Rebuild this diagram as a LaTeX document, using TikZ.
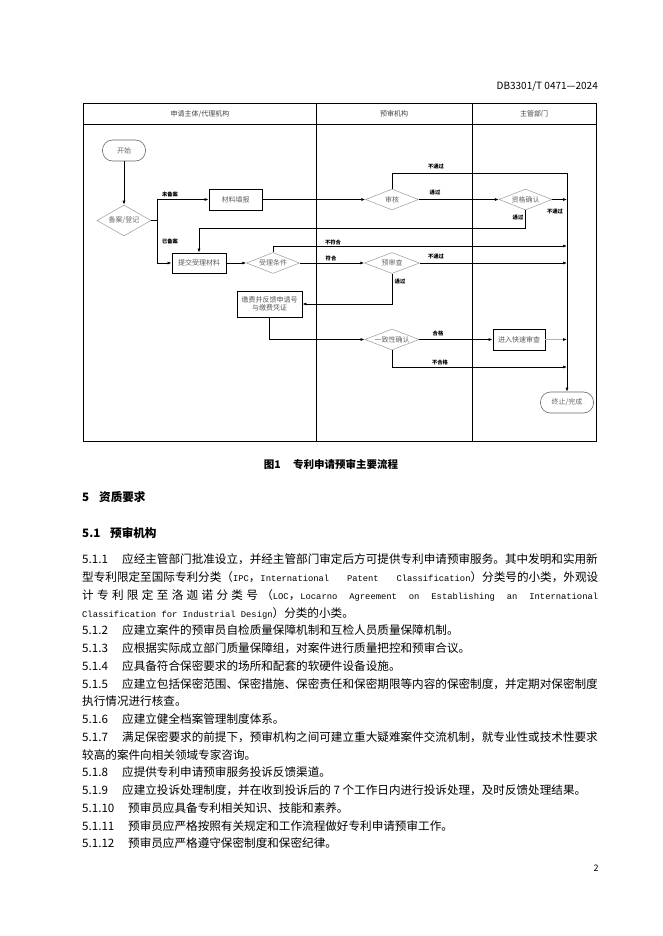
\documentclass[tikz,border=0pt]{standalone}
\usepackage{fontspec}
\setmainfont{Noto Sans CJK SC}
\newfontfamily\mono[Scale=0.76]{Liberation Mono}
\usepackage{tikz}
\usetikzlibrary{positioning,arrows.meta,shapes.geometric}
\newcommand\clause[1]{\makebox[40pt][l]{#1}}
\newcommand\clauselong[1]{\makebox[46pt][l]{#1}}
\newcommand\cg{\hskip 0pt plus 1fil\relax}
\newcommand\wg{\hskip 5.3pt plus 2fil\relax}

\begin{document}
\begin{tikzpicture}[x=1pt, y=-1pt,
  font=\fontsize{7}{8}\selectfont,
  lane/.style={line width=0.8pt},
  hdr/.style={text=black!75, inner sep=1pt},
  term/.style={draw=black!60, line width=0.6pt, rounded corners=10pt,
               minimum width=43pt, minimum height=21pt, text=black!60, inner sep=1pt},
  proc/.style={draw, line width=0.8pt, minimum width=53pt, minimum height=21pt,
               text=black!65, inner sep=2pt},
  dec/.style={diamond, aspect=3, draw=black!40, line width=0.5pt, minimum width=53pt,
              minimum height=21pt, inner sep=0pt, text=black!60},
  lbl/.style={font=\fontsize{5.3}{6}\selectfont\bfseries, inner sep=0pt},
  arr/.style={-{Latex[length=4pt,width=3pt]}, line width=0.7pt},
  body/.style={anchor=west, inner sep=0pt, font=\fontsize{11.6}{14}\selectfont},
  head/.style={body, font=\fontsize{11.6}{14}\selectfont\bfseries},
]
\useasboundingbox (0,0) rectangle (662,936);

\node[anchor=east, inner sep=0pt, font=\fontsize{10}{12}\selectfont] (docid) at (598,86) {DB3301/T 0471—2024};

% swimlanes
\draw[lane] (83,103) rectangle (596,441);
\draw[lane] (83,124) -- (596,124);
\draw[lane] (316,103) -- (316,441);
\draw[lane] (472,103) -- (472,441);
\node[hdr] (h1) at (200,114) {申请主体/代理机构};
\node[hdr] (h2) at (394,114) {预审机构};
\node[hdr] (h3) at (534,114) {主管部门};

% steps
\node[term] (start) at (124,150.5) {开始};
\node[dec, minimum width=54pt, minimum height=31pt] (reg) at (124,220.5) {备案/登记};
\node[proc] (fill) at (235.5,199.5) {材料填报};
\node[dec] (audit) at (392,199.5) {审核};
\node[dec] (qual) at (525.5,199.5) {资格确认};
\node[proc, minimum width=54pt, minimum height=20pt] (submit) at (199,263) {提交受理材料};
\node[dec] (cond) at (273,263) {受理条件};
\node[dec, minimum width=55pt] (pre) at (392,263) {预审查};
\node[proc, minimum width=65pt, minimum height=26pt, align=center] (pay) at (269.5,304) {缴费并反馈申请号\\与缴费凭证};
\node[dec, minimum width=54pt] (cons) at (392,339.5) {一致性确认};
\node[proc, minimum width=52pt] (fast) at (519,339.5) {进入快速审查};
\node[term, minimum width=53pt] (done) at (567,402.5) {终止/完成};

\coordinate (split) at (157,220.5);
\coordinate (rtop) at (567,173);
\coordinate (back) at (199,228);
\coordinate (r1) at (567,199.5);
\coordinate (r2) at (567,246);
\coordinate (r3) at (567,263);
\coordinate (r4) at (567,339.5);
\coordinate (r5) at (567,367);

\draw[arr] (start) -- (reg);
\draw[line width=0.7pt] (reg.east) -- (split);
\draw[arr] (split) |- (fill);
\draw[arr] (split) |- (submit);
\foreach \a/\b in {fill/audit,audit/qual,submit/cond,cond/pre,cons/fast} \draw[arr] (\a) -- (\b);
\draw[line width=0.7pt] (audit.north) |- (rtop);
\draw[arr] (rtop) -- (done);
\draw[arr] (qual) -- (r1);
\draw[arr] (qual.south) |- (back) -- (submit);
\draw[arr] (cond.north) |- (r2);
\draw[arr] (pre) -- (r3);
\draw[arr] (pre.south) |- (pay);
\draw[arr] (pay.south) |- (cons);
\draw[arr, black!30, -{Latex[length=4pt,width=3pt,black]}] (fast) -- (r4);
\draw[arr] (cons.south) |- (r5);

% branch labels
\node[lbl] (l1) at (170,194) {未备案};
\node[lbl] (l2) at (170,241) {已备案};
\node[lbl] (l3) at (436,167) {不通过};
\node[lbl] (l4) at (435,193) {通过};
\node[lbl] (l5) at (555,212) {不通过};
\node[lbl] (l6) at (518,218) {通过};
\node[lbl] (l7) at (333,242) {不符合};
\node[lbl] (l8) at (331,258) {符合};
\node[lbl] (l9) at (436,257) {不通过};
\node[lbl] (l10) at (400,282) {通过};
\node[lbl] (l11) at (438,333) {合格};
\node[lbl] (l12) at (440,362) {不合格};

\node[font=\fontsize{10.5}{12}\selectfont\bfseries, inner sep=0pt] (cap) at (331,464) {图1\hspace{1.2em}专利申请预审主要流程};

% text of the page
\node[head] (sec5) at (82,497) {\makebox[17pt][l]{5}资质要求};
\node[head] (sec51) at (82,533) {\makebox[28pt][l]{5.1}预审机构};
\node[body] (t1) at (82,559) {\clause{5.1.1}应经主管部门批准设立，并经主管部门审定后方可提供专利申请预审服务。其中发明和实用新};
\node[body] (t2) at (82,577) {\makebox[516pt][s]{型专利限定至国际专利分类（{\mono IPC}，{\mono International\wg Patent\wg Classification}）分类号的小类，外观设}};
\node[body] (t3) at (82,595) {\makebox[516pt][s]{计\cg 专\cg 利\cg 限\cg 定\cg 至\cg 洛\cg 迦\cg 诺\cg 分\cg 类\cg 号\cg （{\mono LOC}，{\mono Locarno\wg Agreement\wg on\wg Establishing\wg an\wg International}}};
\node[body] (t4) at (82,613) {{\mono Classification for Industrial Design}）分类的小类。};
\node[body] (t5) at (82,630) {\clause{5.1.2}应建立案件的预审员自检质量保障机制和互检人员质量保障机制。};
\node[body] (t6) at (82,648) {\clause{5.1.3}应根据实际成立部门质量保障组，对案件进行质量把控和预审合议。};
\node[body] (t7) at (82,666) {\clause{5.1.4}应具备符合保密要求的场所和配套的软硬件设备设施。};
\node[body] (t8) at (82,684) {\clause{5.1.5}应建立包括保密范围、保密措施、保密责任和保密期限等内容的保密制度，并定期对保密制度};
\node[body] (t9) at (82,701) {执行情况进行核查。};
\node[body] (t10) at (82,719) {\clause{5.1.6}应建立健全档案管理制度体系。};
\node[body] (t11) at (82,737) {\clause{5.1.7}满足保密要求的前提下，预审机构之间可建立重大疑难案件交流机制，就专业性或技术性要求};
\node[body] (t12) at (82,755) {较高的案件向相关领域专家咨询。};
\node[body] (t13) at (82,772) {\clause{5.1.8}应提供专利申请预审服务投诉反馈渠道。};
\node[body] (t14) at (82,790) {\clause{5.1.9}应建立投诉处理制度，并在收到投诉后的 7 个工作日内进行投诉处理，及时反馈处理结果。};
\node[body] (t15) at (82,808) {\clauselong{5.1.10}预审员应具备专利相关知识、技能和素养。};
\node[body] (t16) at (82,826) {\clauselong{5.1.11}预审员应严格按照有关规定和工作流程做好专利申请预审工作。};
\node[body] (t17) at (82,843) {\clauselong{5.1.12}预审员应严格遵守保密制度和保密纪律。};
\node[inner sep=0pt, font=\fontsize{9}{10}\selectfont] (pageno) at (596,868) {2};
\end{tikzpicture}
\end{document}
